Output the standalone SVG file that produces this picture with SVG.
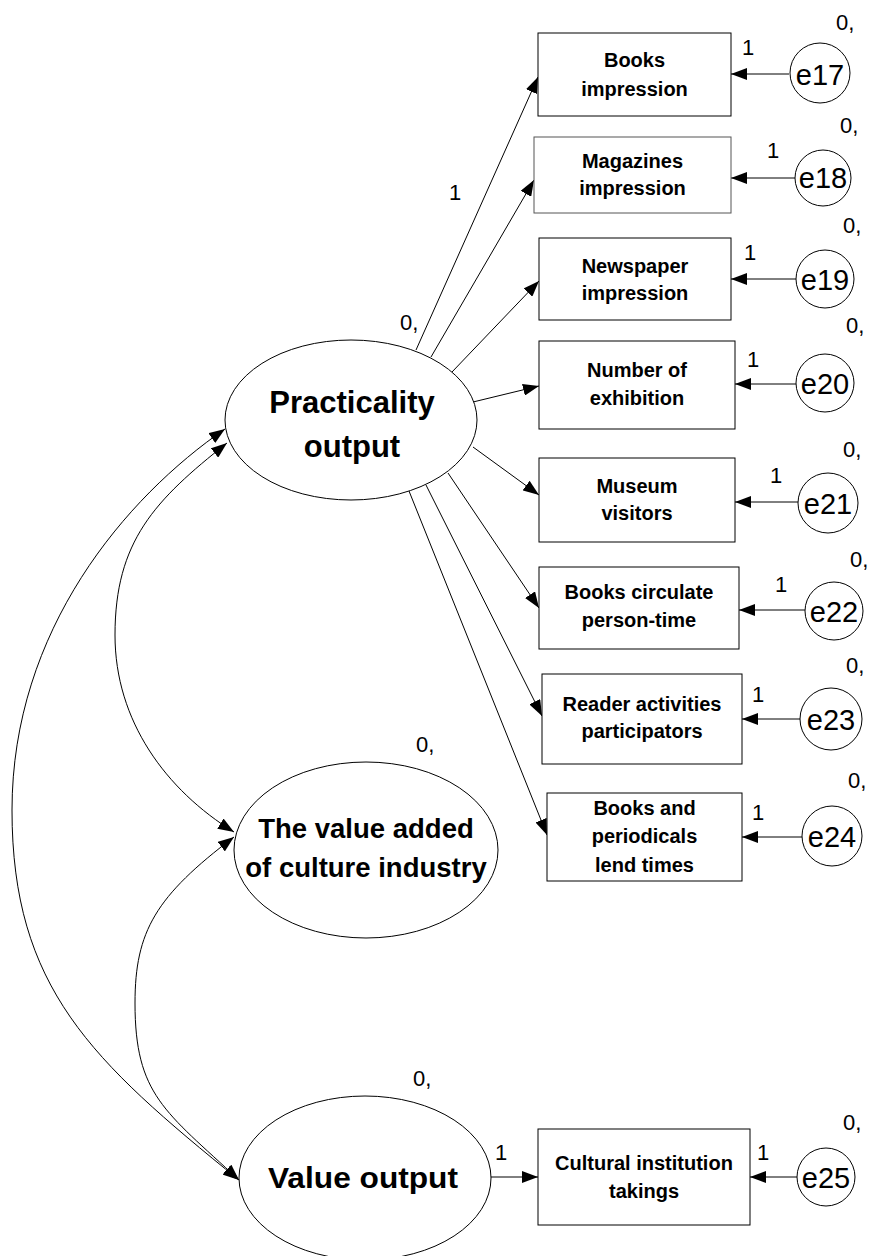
<svg xmlns="http://www.w3.org/2000/svg" width="869" height="1256" viewBox="0 0 869 1256">
  <defs>
    <marker id="arrow" markerUnits="userSpaceOnUse" markerWidth="16" markerHeight="12" refX="16" refY="6" orient="auto-start-reverse">
      <path d="M0,0 L16,6 L0,12 z" fill="#000"/>
    </marker>
    <style>
      .shape { fill: #fff; stroke: #000; stroke-width: 1; }
      .path { fill: none; stroke: #000; stroke-width: 1; marker-end: url(#arrow); }
      .cov { fill: none; stroke: #000; stroke-width: 1; marker-start: url(#arrow); marker-end: url(#arrow); }
      .obs { font-family: "Liberation Sans", Arial, sans-serif; font-size: 20px; font-weight: bold; text-anchor: middle; fill: #000; }
      .lat { font-family: "Liberation Sans", Arial, sans-serif; font-weight: bold; text-anchor: middle; fill: #000; }
      .err { font-family: "Liberation Sans", Arial, sans-serif; font-size: 29px; text-anchor: middle; fill: #000; }
      .num { font-family: "Liberation Sans", Arial, sans-serif; font-size: 22px; fill: #000; }
    </style>
  </defs>

  <!-- connectors -->
  <g id="connectors">
    <!-- loadings of Practicality output -->
    <line class="path" x1="416" y1="350" x2="538" y2="77"/>
    <line class="path" x1="431" y1="357" x2="534" y2="180"/>
    <line class="path" x1="452" y1="372" x2="539" y2="281"/>
    <line class="path" x1="473" y1="402" x2="539" y2="386"/>
    <line class="path" x1="473" y1="447" x2="539" y2="495"/>
    <line class="path" x1="448" y1="473" x2="539" y2="608"/>
    <line class="path" x1="426" y1="485" x2="542" y2="716"/>
    <line class="path" x1="409" y1="491" x2="547" y2="835"/>
    <!-- loading of Value output -->
    <line class="path" x1="491" y1="1177" x2="538" y2="1177"/>
    <!-- error terms -->
    <line class="path" x1="789" y1="74" x2="731" y2="74"/>
    <line class="path" x1="795" y1="178" x2="731" y2="178"/>
    <line class="path" x1="796" y1="279" x2="731" y2="279"/>
    <line class="path" x1="796" y1="384" x2="735" y2="384"/>
    <line class="path" x1="798" y1="502" x2="735" y2="502"/>
    <line class="path" x1="805" y1="610" x2="739" y2="610"/>
    <line class="path" x1="800" y1="719" x2="742" y2="719"/>
    <line class="path" x1="802" y1="837" x2="742" y2="837"/>
    <line class="path" x1="797" y1="1177" x2="750" y2="1177"/>
    <!-- covariances -->
    <path class="cov" d="M225,429 C126,497 12,630 12,810 C12,988 92,1061 239,1180"/>
    <path class="cov" d="M227,443 C155,500 115,541 115,635 C115,721 166,790 234,832"/>
    <path class="cov" d="M234,837 C156,896 135,931 135,1003 C135,1095 165,1111 239,1180"/>
  </g>

  <!-- latent variables -->
  <g id="practicality-output">
    <ellipse class="shape" cx="351" cy="420" rx="126" ry="80"/>
    <text class="lat" x="352" y="413" font-size="31">Practicality</text>
    <text class="lat" x="352" y="457" font-size="31">output</text>
    <text class="num" x="400" y="330">0,</text>
  </g>
  <g id="value-added">
    <ellipse class="shape" cx="366" cy="850" rx="132" ry="88"/>
    <text class="lat" x="366" y="838" font-size="27.5">The value added</text>
    <text class="lat" x="366" y="877" font-size="27.5">of culture industry</text>
    <text class="num" x="416" y="752">0,</text>
  </g>
  <g id="value-output">
    <ellipse class="shape" cx="365" cy="1178" rx="126" ry="82"/>
    <text class="lat" x="363" y="1188" font-size="30" textLength="190" lengthAdjust="spacingAndGlyphs">Value output</text>
    <text class="num" x="413" y="1086">0,</text>
    <text class="num" x="495" y="1160">1</text>
  </g>

  <!-- observed variables -->
  <g id="books-impression">
    <rect class="shape" x="538" y="33" width="193" height="83"/>
    <text class="obs" x="634.5" y="67">Books</text>
    <text class="obs" x="634.5" y="96">impression</text>
    <text class="num" x="449" y="200">1</text>
  </g>
  <g id="magazines-impression">
    <rect class="shape" x="534" y="137" width="197" height="76" style="stroke:#555"/>
    <text class="obs" x="632.5" y="168">Magazines</text>
    <text class="obs" x="632.5" y="195">impression</text>
  </g>
  <g id="newspaper-impression">
    <rect class="shape" x="539" y="238" width="192" height="82"/>
    <text class="obs" x="635" y="273">Newspaper</text>
    <text class="obs" x="635" y="300">impression</text>
  </g>
  <g id="number-of-exhibition">
    <rect class="shape" x="539" y="341" width="196" height="88"/>
    <text class="obs" x="637" y="377">Number of</text>
    <text class="obs" x="637" y="405">exhibition</text>
  </g>
  <g id="museum-visitors">
    <rect class="shape" x="539" y="458" width="196" height="84"/>
    <text class="obs" x="637" y="493">Museum</text>
    <text class="obs" x="637" y="520">visitors</text>
  </g>
  <g id="books-circulate">
    <rect class="shape" x="539" y="567" width="200" height="82"/>
    <text class="obs" x="639" y="599">Books circulate</text>
    <text class="obs" x="639" y="627">person-time</text>
  </g>
  <g id="reader-activities">
    <rect class="shape" x="542" y="674" width="200" height="90"/>
    <text class="obs" x="642" y="711">Reader activities</text>
    <text class="obs" x="642" y="738">participators</text>
  </g>
  <g id="books-periodicals">
    <rect class="shape" x="547" y="793" width="195" height="88"/>
    <text class="obs" x="644.5" y="815">Books and</text>
    <text class="obs" x="644.5" y="843">periodicals</text>
    <text class="obs" x="644.5" y="872">lend times</text>
  </g>
  <g id="cultural-institution">
    <rect class="shape" x="538" y="1129" width="212" height="96"/>
    <text class="obs" x="644" y="1170">Cultural institution</text>
    <text class="obs" x="644" y="1198">takings</text>
  </g>

  <!-- error terms -->
  <g id="e17">
    <circle class="shape" cx="820" cy="73" r="30"/>
    <text class="err" x="820" y="85">e17</text>
    <text class="num" x="742" y="55">1</text>
    <text class="num" x="836" y="30">0,</text>
  </g>
  <g id="e18">
    <circle class="shape" cx="823" cy="178" r="28"/>
    <text class="err" x="823" y="188">e18</text>
    <text class="num" x="767" y="158">1</text>
    <text class="num" x="840" y="133">0,</text>
  </g>
  <g id="e19">
    <circle class="shape" cx="825" cy="279" r="29"/>
    <text class="err" x="825" y="290">e19</text>
    <text class="num" x="744" y="260">1</text>
    <text class="num" x="843" y="233">0,</text>
  </g>
  <g id="e20">
    <circle class="shape" cx="825" cy="383" r="29"/>
    <text class="err" x="825" y="394">e20</text>
    <text class="num" x="747" y="367">1</text>
    <text class="num" x="846" y="333">0,</text>
  </g>
  <g id="e21">
    <circle class="shape" cx="828" cy="503" r="30"/>
    <text class="err" x="828" y="514">e21</text>
    <text class="num" x="770" y="483">1</text>
    <text class="num" x="843" y="457">0,</text>
  </g>
  <g id="e22">
    <circle class="shape" cx="834" cy="611" r="29"/>
    <text class="err" x="834" y="622">e22</text>
    <text class="num" x="775" y="592">1</text>
    <text class="num" x="850" y="567">0,</text>
  </g>
  <g id="e23">
    <circle class="shape" cx="831" cy="719" r="31"/>
    <text class="err" x="831" y="730">e23</text>
    <text class="num" x="752" y="702">1</text>
    <text class="num" x="846" y="673">0,</text>
  </g>
  <g id="e24">
    <circle class="shape" cx="832" cy="836" r="30"/>
    <text class="err" x="832" y="847">e24</text>
    <text class="num" x="752" y="820">1</text>
    <text class="num" x="848" y="788">0,</text>
  </g>
  <g id="e25">
    <circle class="shape" cx="826" cy="1177" r="29"/>
    <text class="err" x="826" y="1188">e25</text>
    <text class="num" x="757" y="1160">1</text>
    <text class="num" x="843" y="1130">0,</text>
  </g>
</svg>
